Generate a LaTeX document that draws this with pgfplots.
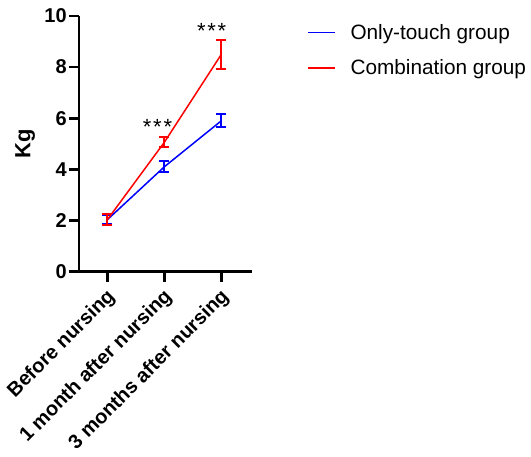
\documentclass[border=0pt]{standalone}
\usepackage{pgfplots}
\pgfplotsset{compat=1.18}
\usepackage{fontspec}
\setmainfont{Liberation Sans}
\begin{document}
\begin{tikzpicture}
\begin{axis}[
  scale only axis,
  width=173pt, height=256pt,
  xmin=-0.5, xmax=2.53,
  ymin=0, ymax=10,
  axis lines*=left,
  axis line style={line width=2.6pt},
  every tick/.style={black, line width=2.6pt},
  tick align=outside,
  major tick length=10pt,
  xtick={0,1,2},
  xticklabels={Before nursing,1 month after nursing,3 months after nursing},
  ytick={0,2,4,6,8,10},
  /pgf/number format/assume math mode=true,
  ticklabel style={font=\fontsize{20}{20}\selectfont\bfseries},
  xticklabel style={xshift=6pt, yshift=-11pt, rotate=45, anchor=east, inner sep=2pt},
  yticklabel style={inner sep=2pt},
  ylabel={Kg},
  ylabel style={font=\fontsize{22}{22}\selectfont\bfseries, yshift=4pt},
  legend style={draw=none, fill=none, at={(1.303,0.985)}, anchor=north west,
    font=\fontsize{20.8}{21}\selectfont, row sep=15pt, column sep=13pt},
  legend cell align=left,
  legend image code/.code={\draw[#1, line width=1.5pt] (0pt,0pt) -- (27pt,0pt);},
  clip=false,
]
\addplot[blue, line width=1.5pt, mark=none,
  error bars/.cd, y dir=both, y explicit,
  error bar style={line width=2pt, blue},
  error mark options={rotate=90, mark size=5pt, line width=2pt, blue}]
  coordinates {(0,2.03) +- (0,0.17) (1,4.1) +- (0,0.21) (2,5.9) +- (0,0.26)};
\addlegendentry{Only-touch group}
\addplot[red, line width=1.5pt, mark=none,
  error bars/.cd, y dir=both, y explicit,
  error bar style={line width=2pt, red},
  error mark options={rotate=90, mark size=5pt, line width=2pt, red}]
  coordinates {(0,2.03) +- (0,0.21) (1,5.06) +- (0,0.2) (2,8.5) +- (0,0.56)};
\addlegendentry{Combination group}
\node[anchor=base, font=\fontsize{22}{22}\selectfont] at (axis cs:0.88,5.38) {*\hspace{1.8pt}*\hspace{1.8pt}*};
\node[anchor=base, font=\fontsize{22}{22}\selectfont] at (axis cs:1.83,9.11) {*\hspace{1.8pt}*\hspace{1.8pt}*};
\end{axis}
\path (current axis.south west) ++(-79pt,-177pt) rectangle ++(531pt,449pt);
\end{tikzpicture}
\end{document}
